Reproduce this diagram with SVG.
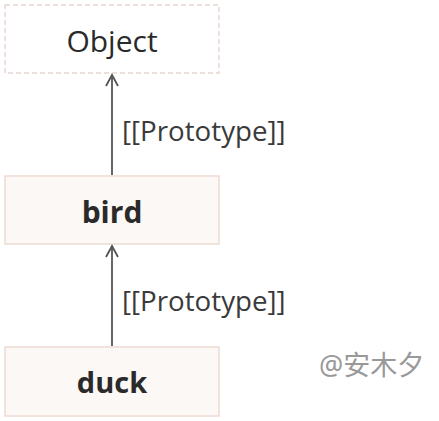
<svg xmlns="http://www.w3.org/2000/svg" width="439" height="421" viewBox="0 0 439 421">
<style>
.box{fill:#fcf8f6;stroke:#eddcd3;stroke-width:1.5}
.dash{fill:#ffffff;stroke:#e8d5d0;stroke-width:1.5;stroke-dasharray:5 3}
.t{font-family:"Open Sans","Noto Sans","DejaVu Sans",sans-serif;fill:#2a2a2a;text-anchor:middle}
.b{font-weight:bold}
.lbl{font-family:"Open Sans","Noto Sans","DejaVu Sans",sans-serif;fill:#3a3a3a;font-size:27.7px}
.wm{font-family:"Noto Sans","Noto Sans CJK SC",sans-serif;fill:#999;font-size:27px}
.ln{stroke:#555;stroke-width:1.8;fill:none}
</style>
<defs>
<marker id="arr" viewBox="0 0 14 14" refX="12" refY="7" markerWidth="14" markerHeight="14" markerUnits="userSpaceOnUse" orient="auto">
<path d="M1,1 L12,7 L1,13" fill="none" stroke="#555" stroke-width="1.8"/>
</marker>
</defs>
<g id="node-object">
<rect class="dash" x="5" y="5" width="214" height="68"/>
<text class="t" x="112" y="52" font-size="30">Object</text>
</g>
<g id="node-bird">
<rect class="box" x="5" y="176" width="214" height="68"/>
<text class="t b" x="112" y="223" font-size="30">bird</text>
</g>
<g id="node-duck">
<rect class="box" x="5" y="347" width="214" height="69"/>
<text class="t b" x="112" y="393" font-size="29">duck</text>
</g>
<g id="connectors">
<line class="ln" x1="112" y1="175" x2="112" y2="75" marker-end="url(#arr)"/>
<text class="lbl" x="122" y="141">[[Prototype]]</text>
<line class="ln" x1="112" y1="346" x2="112" y2="246" marker-end="url(#arr)"/>
<text class="lbl" x="122" y="311">[[Prototype]]</text>
</g>
<text class="wm" x="319" y="375">@安木夕</text>
</svg>
